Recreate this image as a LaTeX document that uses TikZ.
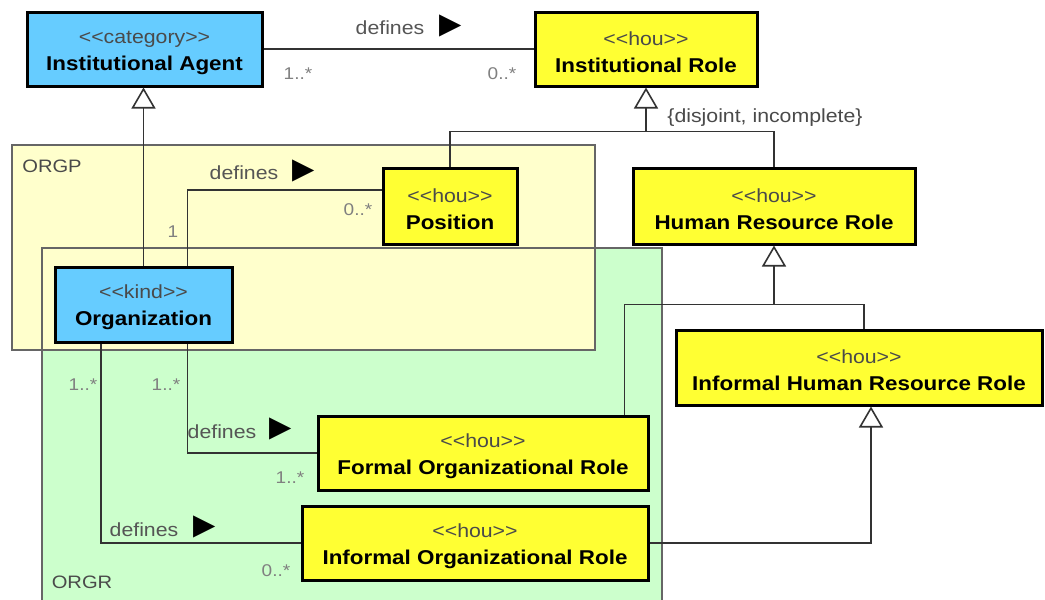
\documentclass[tikz,border=0pt]{standalone}
\usepackage{fontspec}
\setmainfont{Liberation Sans}
\newfontfamily\lab[FakeStretch=1.12]{Liberation Sans}
\newfontfamily\sym{DejaVu Sans}
\usetikzlibrary{arrows.meta,calc}
\definecolor{agentblue}{HTML}{66CCFF}
\definecolor{houyellow}{HTML}{FFFF33}
\definecolor{pkgyellow}{HTML}{FFFFCC}
\definecolor{pkggreen}{HTML}{CCFFCC}
\definecolor{linegray}{HTML}{333333}
\definecolor{stgray}{HTML}{4A4A4A}
\definecolor{labgray}{HTML}{555555}
\definecolor{mulgray}{HTML}{808080}
\newcommand{\stf}{\fontsize{19}{28}\selectfont\color{stgray}\rule{0pt}{20pt}}
\newcommand{\nmf}{\bfseries\fontsize{20}{28}\selectfont\color{black}}
\tikzset{
  umlbox/.style={draw=black, line width=3pt, inner sep=0pt, align=center, font=\lab\fontsize{20}{28}\selectfont},
  agent/.style={umlbox, fill=agentblue},
  hou/.style={umlbox, fill=houyellow},
  conn/.style={draw=linegray, line width=1.6pt},
  gen/.style={conn, -{Triangle[open, length=21pt, width=24pt, line width=1.6pt]}},
  lbl/.style={inner sep=0pt, font=\lab\fontsize{19}{22}\selectfont, text=labgray},
  tri/.style={inner sep=0pt, font=\sym\fontsize{29}{29}\selectfont},
  mult/.style={inner sep=0pt, font=\lab\fontsize{17}{20}\selectfont, text=mulgray},
  pkgname/.style={inner sep=0pt, font=\lab\fontsize{18}{22}\selectfont, text=stgray},
  pkgline/.style={draw=black!60, line width=1.5pt}
}
\begin{document}
\begin{tikzpicture}[x=1pt, y=-1pt]
\useasboundingbox (0,0) rectangle (1045,600);
% packages
\fill[pkggreen] (42,248) rectangle (662,606);
\draw[pkgline] (42,606) -- (42,248) -- (662,248) -- (662,606);
\filldraw[fill=pkgyellow, pkgline] (12,145) rectangle (595,350);
\draw[pkgline] (42,350) -- (42,248) -- (595,248);
\node[pkgname] (orgp) at (52,166) {ORGP};
\node[pkgname] (orgr) at (82,582) {ORGR};
% classes
\node[agent, minimum width=235pt, minimum height=74pt] (IA) at (144.5,49) {\stf <<category>>\\[-1pt]\nmf Institutional Agent};
\node[hou, minimum width=222pt, minimum height=74pt] (IR) at (646,49) {\stf <<hou>>\\[-1pt]\nmf Institutional Role};
\node[agent, minimum width=177pt, minimum height=75pt] (Org) at (143.5,304.5) {\stf <<kind>>\\[-1pt]\nmf Organization};
\node[hou, minimum width=134pt, minimum height=76pt] (Pos) at (450,206) {\stf <<hou>>\\[-1pt]\nmf Position};
\node[hou, minimum width=282pt, minimum height=76pt] (HRR) at (774,206) {\stf <<hou>>\\[-1pt]\nmf Human Resource Role};
\node[hou, minimum width=366pt, minimum height=75pt] (IHRR) at (859,367.5) {\stf <<hou>>\\[-1pt]\nmf Informal Human Resource Role};
\node[hou, minimum width=330pt, minimum height=74pt] (FOR) at (483,453) {\stf <<hou>>\\[-1pt]\nmf Formal Organizational Role};
\node[hou, minimum width=346pt, minimum height=74pt] (IOR) at (475,543) {\stf <<hou>>\\[-1pt]\nmf Informal Organizational Role};
% associations
\draw[conn] (IA.east) -- (IR.west);
\node[lbl] (d1) at (390,28) {defines};
\node[tri] (t1) at (451,26) {▶};
\node[mult] (m1) at (298,74) {1..*};
\node[mult] (m2) at (502,74) {0..*};

\draw[conn] ($(Org.north)+(44,0)$) |- ($(Pos.west)+(0,-16)$);
\node[lbl] (d2) at (244,173) {defines};
\node[tri] (t2) at (304,171) {▶};
\node[mult] (m3) at (173,232) {1};
\node[mult] (m4) at (358,210) {0..*};

\draw[conn] ($(Org.south)+(44,0)$) |- (FOR.west);
\node[lbl] (d3) at (222,432) {defines};
\node[tri] (t3) at (281,429) {▶};
\node[mult] (m5) at (166,385) {1..*};
\node[mult] (m6) at (290,478) {1..*};

\draw[conn] ($(Org.south)+(-42.5,0)$) |- (IOR.west);
\node[lbl] (d4) at (144,530) {defines};
\node[tri] (t4) at (205,527) {▶};
\node[mult] (m7) at (83,385) {1..*};
\node[mult] (m8) at (276,571) {0..*};
% generalizations
\draw[gen] (Org.north) -- (Org.north |- IA.south);
\coordinate (j1) at ($(IR.south)+(0,44)$);
\draw[gen] (j1) -- (IR.south);
\draw[conn] (Pos.north) |- (j1) -| (HRR.north);
\node[lbl, text=stgray] (dis) at (765,118) {\{disjoint, incomplete\}};
\coordinate (j2) at ($(HRR.south)+(0,59)$);
\draw[gen] (j2) -- (HRR.south);
\draw[conn] ($(FOR.north east)+(-25,0)$) |- (j2) -| ($(IHRR.north)+(5,0)$);
\draw[gen] (IOR.east) -| ($(IHRR.south)+(12,0)$);
\end{tikzpicture}
\end{document}
